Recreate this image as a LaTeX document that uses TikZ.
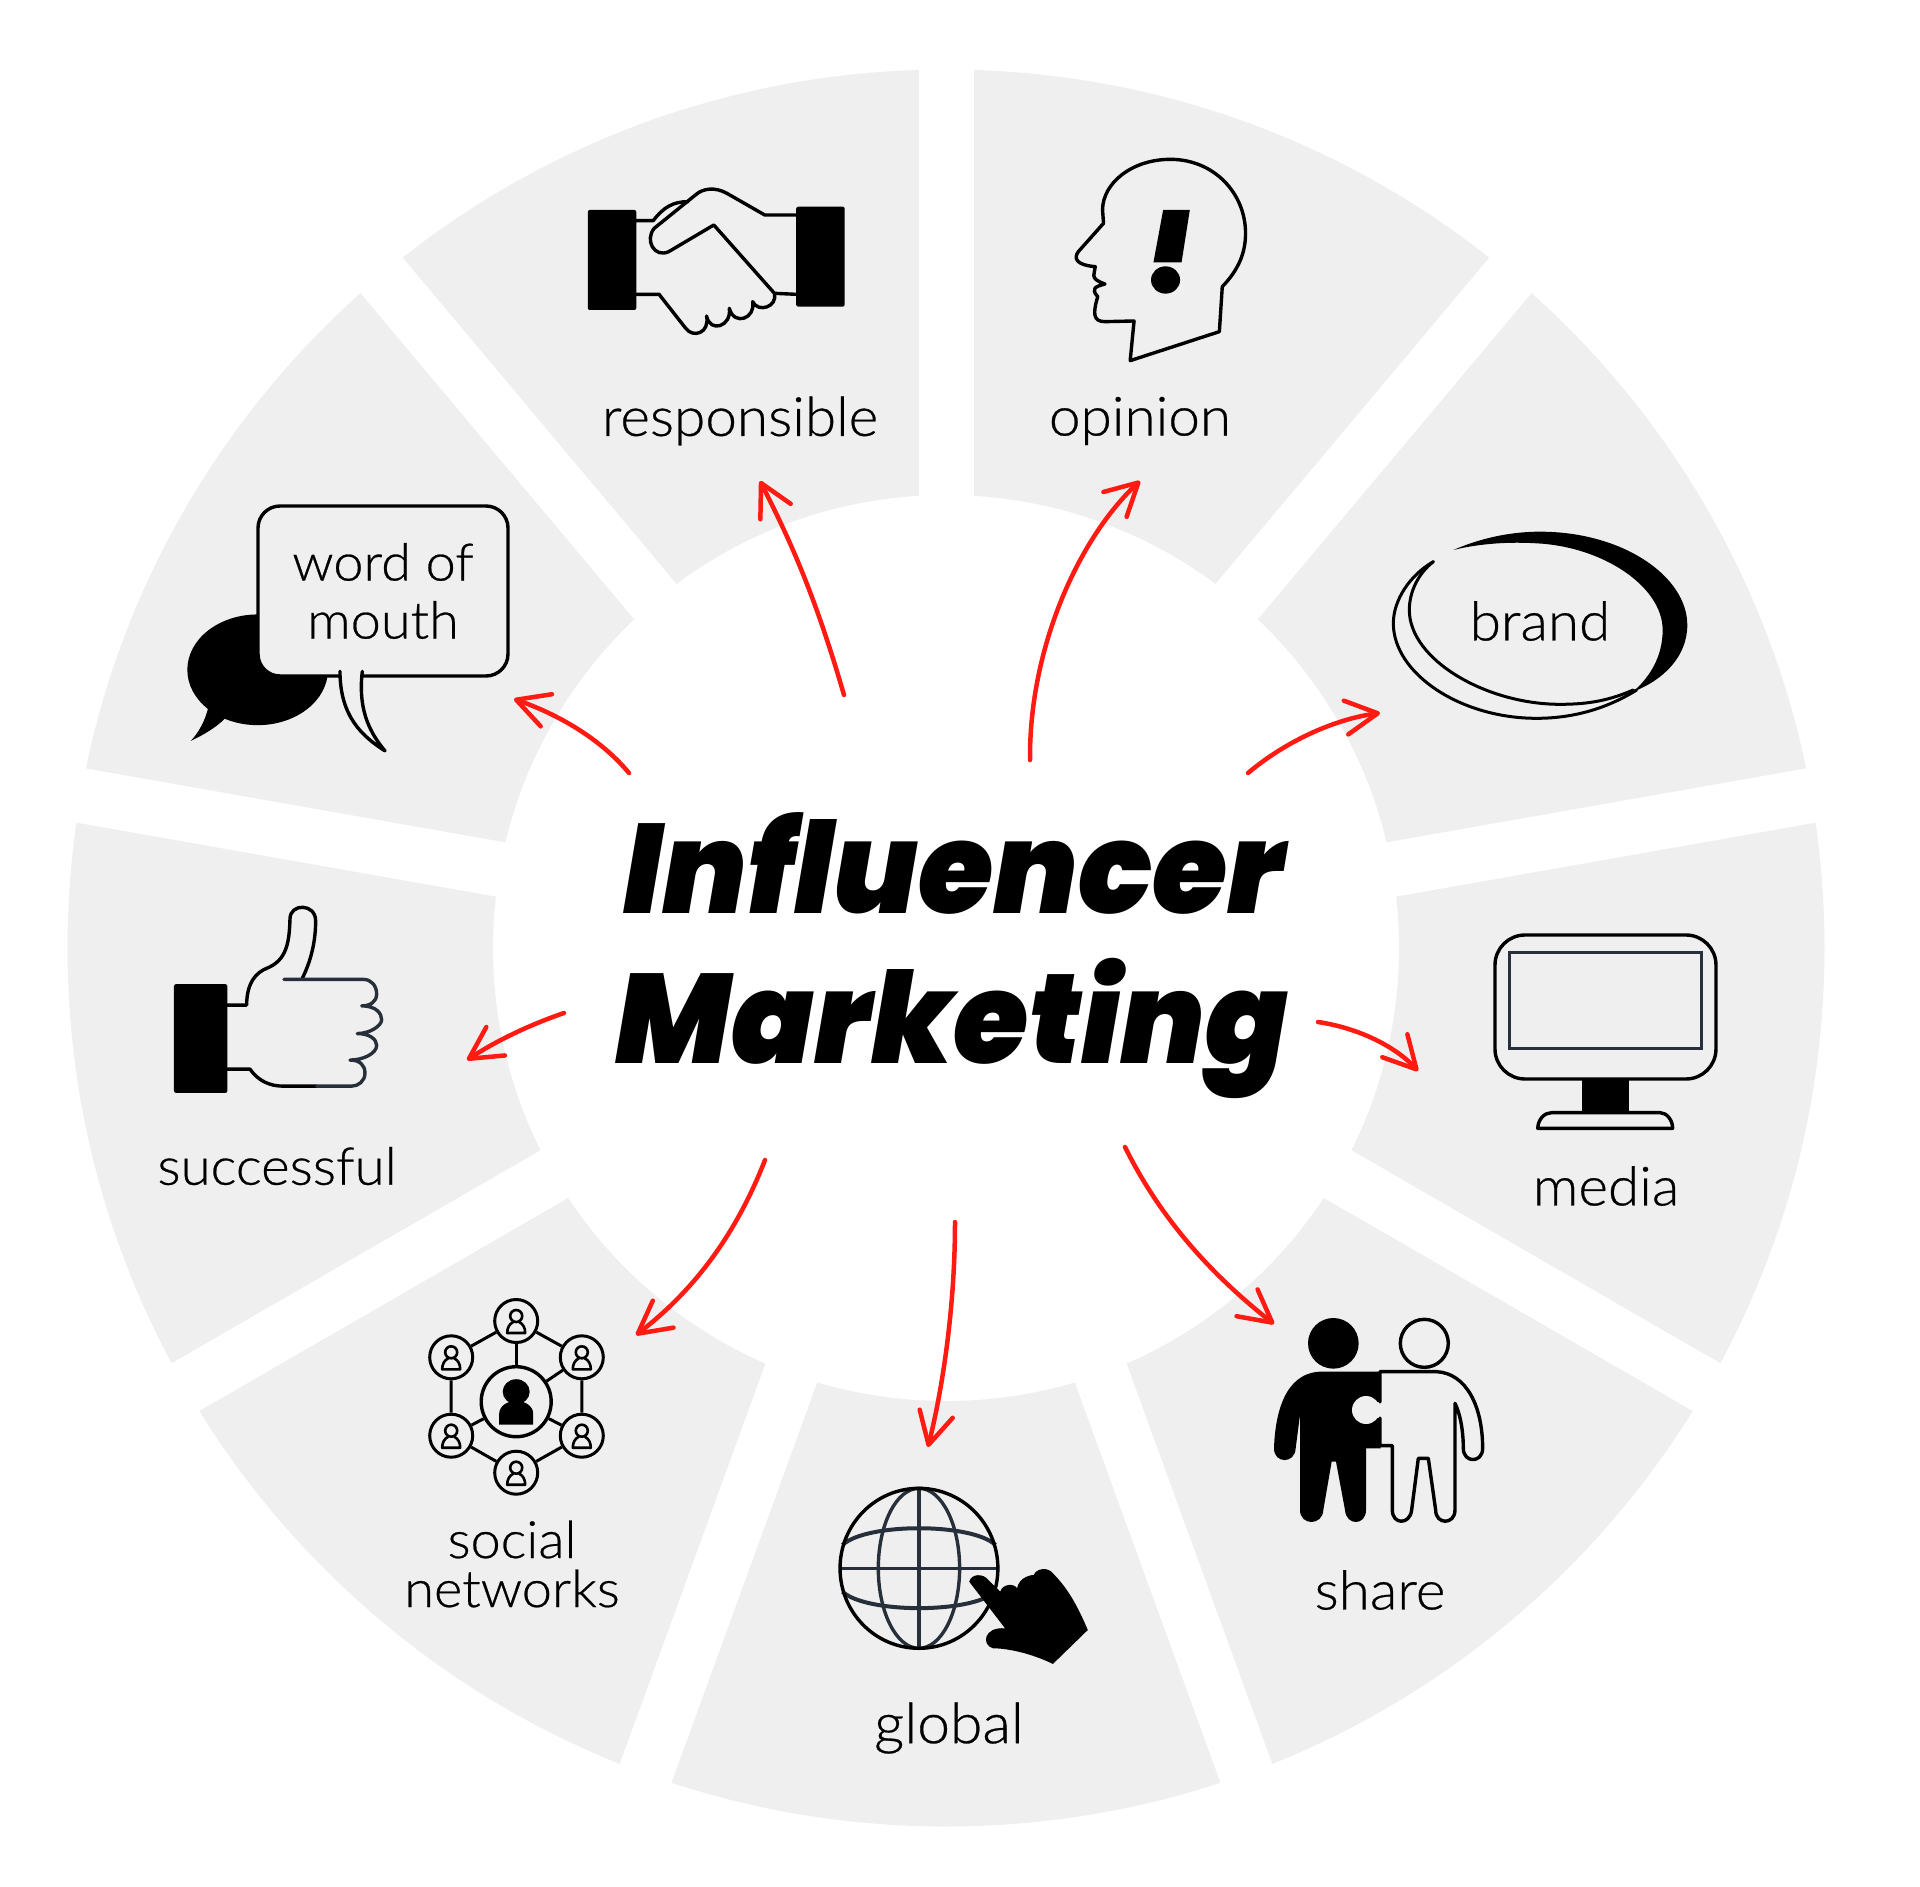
\documentclass[tikz,border=0pt]{standalone}
\usepackage{fontspec}
\usetikzlibrary{arrows.meta,calc}
\newfontfamily\labelfont[FakeStretch=1.05,FakeBold=0.5]{Lato Light}
\newfontfamily\titlefont[Ligatures=NoCommon,FakeStretch=0.958]{Poppins Black Italic}
\definecolor{sectorgray}{HTML}{EFEFEF}
\definecolor{gridnavy}{HTML}{27303A}
\definecolor{arrowred}{HTML}{FF1A12}
\tikzset{
  sectorgap/.style={white,line width=55pt},
  iconline/.style={black,line width=3.4pt,line join=round,line cap=round},
  gridline/.style={gridnavy,line width=3.4pt},
  labeltext/.style={font=\labelfont\fontsize{54}{58}\selectfont,align=center,inner sep=0pt,text=black},
  titletext/.style={font=\titlefont\fontsize{127}{127}\selectfont,inner sep=0pt,text=black},
  pusharrow/.style={arrowred,line width=4.5pt,line cap=round,
    -{Straight Barb[length=32pt,width=34pt,round]}},
  netcircle/.style={circle,draw=black,line width=3pt,minimum size=43pt,inner sep=0pt},
  netlink/.style={black,line width=3pt},
}

\begin{document}
\begin{tikzpicture}[x=1pt,y=-1pt]
\useasboundingbox (0,0) rectangle (1920,1887);

% wheel
\coordinate (hub) at (946,948);
\fill[sectorgray,even odd rule] (hub) circle (878.5pt) (hub) circle (453pt);
\foreach \a in {90,50,10,-30,-70,-110,-150,170,130}
  \draw[sectorgap] (hub) -- ++(\a:1400pt);

% title
\node[titletext,anchor=base] (influencer) at (954,913) {Influencer};
\node[titletext,anchor=base] (marketing) at (952,1063) {Marketing};

% labels
\node[labeltext] (responsible) at (740,421) {responsible};
\node[labeltext] (opinion) at (1140,421) {opinion};
\node[labeltext] (brand) at (1540,621) {brand};
\node[labeltext] (media) at (1606,1186) {media};
\node[labeltext] (share) at (1380,1590) {share};
\node[labeltext,font=\labelfont\fontsize{56}{58}\selectfont] (global) at (949,1728) {global};
\node[labeltext,font=\labelfont\fontsize{51.5}{49}\selectfont] (social) at (512,1564) {social\\networks};
\node[labeltext,font=\labelfont\fontsize{52}{58}\selectfont] (successful) at (277,1166) {successful};

% word of mouth
\begin{scope}[shift={(150,480)},xscale=0.3333,yscale=0.3954]
  \fill[black] (323,480) ellipse (211 and 140);
  \fill[black] (175,575) .. controls (165,610) and (145,640) .. (122,660)
    .. controls (160,645) and (200,625) .. (225,603) -- cycle;
\end{scope}
\node[labeltext,font=\labelfont\fontsize{51.5}{58}\selectfont,draw=black,line width=3.4pt,fill=sectorgray,rounded corners=22pt,minimum width=250pt,minimum height=170pt] (wordbox) at (383,591) {word of\\mouth};
\begin{scope}[shift={(150,480)},xscale=0.3333,yscale=0.3954]
  \draw[iconline,fill=sectorgray] (570,484) .. controls (570,600) and (640,650) .. (705,685)
    .. controls (650,630) and (625,570) .. (637,484);
\end{scope}

% handshake
\begin{scope}[shift={(550,130)},xscale=0.4847,yscale=0.3333]
  \fill[black,rounded corners=2pt] (78,240) rectangle (178,540);
  \fill[black,rounded corners=2pt] (508,230) rectangle (608,530);
  \draw[iconline] (508,255) -- (443,255) -- (365,190) .. controls (340,170) and (315,175) .. (300,195)
    -- (215,295) .. controls (195,330) and (215,385) .. (245,365) -- (338,285) -- (463,490) -- (508,493);
  \draw[iconline] (463,490) .. controls (470,530) and (430,550) .. (418,515)
    .. controls (425,565) and (380,590) .. (370,535)
    .. controls (375,590) and (330,610) .. (323,558)
    .. controls (330,610) and (295,625) .. (280,595) -- (225,493) -- (178,493);
  \draw[iconline] (178,272) -- (213,272) .. controls (235,230) and (255,215) .. (285,215);
\end{scope}

% head
\begin{scope}[shift={(550,130)},xscale=0.4847,yscale=0.3333]
  \draw[iconline] (1197,692) -- (1381,605) -- (1387,470) .. controls (1420,420) and (1435,370) .. (1435,310)
    .. controls (1435,190) and (1370,88) .. (1280,88) .. controls (1200,88) and (1140,160) .. (1140,240)
    -- (1142,280) -- (1090,365) .. controls (1080,385) and (1085,405) .. (1125,410)
    .. controls (1125,430) and (1110,445) .. (1145,462) .. controls (1125,470) and (1115,475) .. (1130,500)
    .. controls (1120,550) and (1120,575) .. (1145,575) -- (1205,573) -- cycle;
  \fill[black] (1265,240) -- (1320,240) -- (1303,397) -- (1245,397) -- cycle;
  \fill[black] (1270,450) ellipse (30 and 41);
\end{scope}

% brand
\begin{scope}[shift={(1370,510)},scale=0.3333]
  \fill[black] (250,120) .. controls (330,85) and (420,65) .. (510,65)
    .. controls (760,65) and (952,200) .. (952,345) .. controls (952,440) and (880,510) .. (790,545)
    .. controls (840,500) and (878,440) .. (878,360) .. controls (878,230) and (700,110) .. (500,100)
    .. controls (420,95) and (330,100) .. (250,120) -- cycle;
  \draw[iconline,line width=3pt] (190,155) .. controls (120,195) and (70,270) .. (70,340)
    .. controls (70,490) and (270,625) .. (500,625) .. controls (620,625) and (720,590) .. (800,540);
  \draw[iconline,line width=3pt] (190,155) .. controls (145,190) and (118,245) .. (118,300)
    .. controls (118,450) and (350,583) .. (570,583) .. controls (660,583) and (720,570) .. (790,540);
\end{scope}

% monitor
\begin{scope}[shift={(1470,910)},scale=0.3333]
  \draw[iconline,rounded corners=30] (75,75) rectangle (738,507);
  \draw[gridline,line join=miter] (118,127) rectangle (695,415);
  \fill[black] (337,507) rectangle (476,612);
  \draw[iconline] (203,655) .. controls (205,625) and (225,608) .. (245,608) -- (570,608)
    .. controls (590,608) and (608,630) .. (608,655) -- cycle;
\end{scope}

% share
\begin{scope}[shift={(1260,1290)},scale=0.3333]
  \fill[black] (220,160) circle (76);
  \draw[iconline] (493,160) circle (72);
  \fill[black] (360,245) -- (180,245) .. controls (70,250) and (45,380) .. (42,475)
    .. controls (42,522) and (105,522) .. (107,475) -- (120,375) -- (120,660)
    .. controls (120,708) and (188,708) .. (190,660) -- (215,515) -- (228,515) -- (255,660)
    .. controls (258,708) and (318,708) .. (318,660) -- (318,475) -- (362,475) -- (362,245) -- cycle;
  \fill[sectorgray] (318,360) circle (42);
  \fill[sectorgray] (330,336) rectangle (365,384);
  \draw[iconline] (360,336) -- (360,245) -- (530,245) .. controls (620,250) and (668,350) .. (668,475)
    .. controls (668,520) and (610,520) .. (610,475) .. controls (610,420) and (600,370) .. (585,340)
    -- (585,660) .. controls (585,705) and (527,705) .. (527,660) -- (505,505) -- (475,505) -- (455,660)
    .. controls (450,705) and (397,705) .. (397,660) -- (397,467) -- (360,467) -- (360,384);
\end{scope}

% globe
\begin{scope}[shift={(400,1280)},xscale=0.4783,yscale=0.3333]
  \draw[gridline] (1085,625) -- (1085,1105);
  \draw[gridline] (920,865) -- (1250,865);
  \draw[gridline] (1085,865) ellipse (85 and 240);
  \draw[gridline,line width=4pt] (925,795) .. controls (975,728) and (1195,728) .. (1245,795);
  \draw[gridline,line width=4pt] (925,935) .. controls (975,1001) and (1195,1001) .. (1245,935);
  \draw[iconline] (1085,865) ellipse (165 and 240);
  \fill[black] (1190,905) .. controls (1195,880) and (1220,880) .. (1230,900) -- (1255,935)
    .. controls (1260,910) and (1285,910) .. (1290,925) .. controls (1295,890) and (1320,885) .. (1325,885)
    .. controls (1330,865) and (1355,860) .. (1365,880) .. controls (1400,930) and (1420,990) .. (1438,1050)
    -- (1365,1152) .. controls (1320,1120) and (1270,1105) .. (1240,1105)
    .. controls (1215,1095) and (1220,1040) .. (1265,1045) -- cycle;
\end{scope}

% network
\node[netcircle,minimum size=70pt,line width=3.4pt] (nhub) at (516.2,1401.7) {};
\node[netcircle] (ntop) at (516.2,1321) {};
\node[netcircle] (nur) at (581.8,1357.3) {};
\node[netcircle] (nlr) at (581.8,1435.7) {};
\node[netcircle] (nbot) at (516.2,1472.7) {};
\node[netcircle] (nll) at (451.2,1435.7) {};
\node[netcircle] (nul) at (451.2,1357.3) {};
\draw[netlink] (ntop) -- (nur) -- (nlr) -- (nbot) -- (nll) -- (nul) -- (ntop);
\draw[netlink] (nhub) -- (ntop);
\draw[netlink] (nhub) -- (nur);
\draw[netlink] (nhub) -- (nlr);
\draw[netlink] (nhub) -- (nll);
\foreach \n in {ntop,nur,nlr,nbot,nll,nul} {
  \begin{scope}[shift={(\n)}]
    \draw[black,line width=2.6pt] (0,-5) circle (6pt);
    \draw[black,line width=2.6pt,line join=round] (-3,1) .. controls (-7,3) and (-9,7) .. (-9,12) -- (9,12)
      .. controls (9,7) and (7,3) .. (3,1);
  \end{scope}
}
\begin{scope}[shift={(nhub)}]
  \fill[black] (0,-10) ellipse (13.5 and 12.5);
  \fill[black] (-17,23) -- (17,23) -- (17,12) .. controls (17,4) and (8,-1) .. (0,-1)
    .. controls (-8,-1) and (-17,4) .. (-17,12) -- cycle;
\end{scope}

% thumb
\begin{scope}[shift={(150,480)},xscale=0.3333,yscale=0.3954]
  \fill[black,rounded corners=2pt] (72,1275) rectangle (232,1550);
  \draw[iconline] (232,1328) -- (290,1328) .. controls (290,1270) and (320,1245) .. (350,1235)
    .. controls (410,1215) and (418,1170) .. (420,1110) .. controls (420,1070) and (497,1070) .. (497,1115)
    .. controls (497,1180) and (475,1230) .. (457,1260);
  \draw[iconline] (232,1490) -- (300,1490) .. controls (325,1520) and (360,1533) .. (400,1533) -- (500,1533);
  \draw[gridline,line cap=round,line join=round] (402,1263) -- (640,1263) .. controls (665,1263) and (680,1280) .. (680,1300)
    .. controls (680,1320) and (660,1330) .. (635,1330) .. controls (680,1330) and (695,1350) .. (695,1365)
    .. controls (695,1380) and (660,1400) .. (622,1400) .. controls (660,1400) and (680,1415) .. (680,1430)
    .. controls (680,1450) and (640,1467) .. (600,1467) .. controls (630,1467) and (645,1480) .. (645,1500)
    .. controls (645,1520) and (625,1533) .. (605,1533) -- (500,1533);
\end{scope}

% arrows
\coordinate (rs) at (844,695);   \coordinate (re) at (760,481);
\coordinate (os) at (1030,760);  \coordinate (oe) at (1140,481);
\coordinate (bs) at (1248,773);  \coordinate (be) at (1380,713);
\coordinate (ms) at (1318,1022); \coordinate (me) at (1418,1071);
\coordinate (ss) at (1125,1147); \coordinate (se) at (1274,1324);
\coordinate (gs) at (955,1222);  \coordinate (ge) at (928,1447);
\coordinate (ns) at (765,1160);  \coordinate (ne) at (636,1335);
\coordinate (ts) at (564,1013);  \coordinate (te) at (467,1060);
\coordinate (ws) at (629,773);   \coordinate (we) at (514,699);
\draw[pusharrow] (rs) .. controls (815,595) and (790,540) .. (re);
\draw[pusharrow] (os) .. controls (1029,649) and (1078,539) .. (oe);
\draw[pusharrow] (bs) .. controls (1286,741) and (1335,719) .. (be);
\draw[pusharrow] (ms) .. controls (1359,1028) and (1396,1047) .. (me);
\draw[pusharrow] (ss) .. controls (1163,1224) and (1218,1280) .. (se);
\draw[pusharrow] (gs) .. controls (955,1298) and (945,1378) .. (ge);
\draw[pusharrow] (ns) .. controls (735,1237) and (692,1292) .. (ne);
\draw[pusharrow] (ts) .. controls (529,1025) and (496,1041) .. (te);
\draw[pusharrow] (ws) .. controls (600,738) and (557,714) .. (we);
\end{tikzpicture}
\end{document}
